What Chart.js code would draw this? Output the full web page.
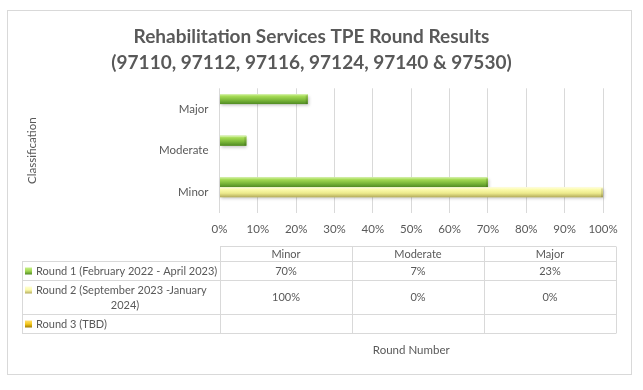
<!DOCTYPE html>
<html>
<head>
<meta charset="utf-8">
<script src="https://cdn.jsdelivr.net/npm/chart.js@4"></script>
<style>
html,body{margin:0;padding:0;background:#fff;}
#wrap{width:643px;height:390px;position:relative;}
</style>
</head>
<body>
<div id="wrap"><canvas id="c" width="643" height="390"></canvas></div>
<script>
// ---- data ----
const categories = ['Minor', 'Moderate', 'Major'];
const seriesNames = ['Round 1 (February 2022 - April 2023)', 'Round 2 (September 2023 -January 2024)', 'Round 3 (TBD)'];
const round1 = [70, 7, 23];
const round2 = [100, 0, 0];
const round3 = [null, null, null];
const xTicks = [0, 10, 20, 30, 40, 50, 60, 70, 80, 90, 100];
const titleLines = ['Rehabilitation Services TPE Round Results', '(97110, 97112, 97116, 97124, 97140 & 97530)'];
const yTitle = 'Classification';
const xTitle = 'Round Number';

// ---- styles ----
const FONT = 'Lato, "Open Sans", sans-serif';
const TXT = '#595959';
const GRID = '#d9d9d9';
const palettes = [
  {base: '#8cc63f', stops: ['#c8f08a', '#a2d852', '#7cb83a', '#4f8a23']},
  {base: '#f4f29a', stops: ['#ffffd4', '#fbfaaa', '#ecea8c', '#b4ac5c']},
  {base: '#f0c000', stops: ['#ffe070', '#f5c81a', '#e0b000', '#a07c00']}
];
const rowLabelLines = [
  ['Round 1 (February 2022 - April 2023)'],
  ['Round 2 (September 2023 -January', '2024)'],
  ['Round 3 (TBD)']
];
const seriesData = [round1, round2, round3];

const decorPlugin = {
  id: 'decor',
  beforeDraw(chart) {
    const ctx = chart.ctx;
    ctx.save();
    ctx.fillStyle = '#fff';
    ctx.fillRect(0, 0, chart.width, chart.height);
    ctx.strokeStyle = GRID;
    ctx.lineWidth = 1;
    ctx.strokeRect(7.5, 10.5, 624, 364);
    ctx.restore();
  },
  afterDatasetsDraw(chart) {
    const ctx = chart.ctx;
    chart.data.datasets.forEach((ds, di) => {
      const meta = chart.getDatasetMeta(di);
      const pal = palettes[di];
      meta.data.forEach((el, i) => {
        const v = ds.data[i];
        if (v === null || v === undefined || v === 0) return;
        const x0 = Math.min(el.base, el.x), x1 = Math.max(el.base, el.x);
        const top = el.y - el.height / 2, h = el.height;
        ctx.save();
        ctx.shadowColor = 'rgba(0,0,0,0.22)';
        ctx.shadowBlur = 3;
        ctx.shadowOffsetY = 2;
        ctx.shadowOffsetX = 1;
        const g = ctx.createLinearGradient(0, top, 0, top + h);
        g.addColorStop(0, pal.stops[0]);
        g.addColorStop(0.25, pal.stops[1]);
        g.addColorStop(0.6, pal.stops[2]);
        g.addColorStop(1, pal.stops[3]);
        ctx.fillStyle = g;
        ctx.fillRect(x0, top, x1 - x0, h);
        ctx.restore();
        ctx.save();
        ctx.fillStyle = 'rgba(0,0,0,0.12)';
        ctx.fillRect(x1 - 2, top + 1, 2, h - 1);
        ctx.fillStyle = 'rgba(255,255,255,0.35)';
        ctx.fillRect(x0, top, x1 - x0, 1);
        ctx.restore();
      });
    });
  },
  afterDraw(chart) {
    const ctx = chart.ctx;
    const area = chart.chartArea;
    const L = 22, C0 = Math.round(area.left), colW = 132, R = C0 + colW * 3;
    const rows = [246.5, 261.5, 280.5, 314.5, 333.5];
    ctx.save();
    ctx.strokeStyle = GRID;
    ctx.lineWidth = 1;
    ctx.beginPath();
    ctx.moveTo(C0, rows[0]); ctx.lineTo(R, rows[0]);
    for (let r = 1; r < rows.length; r++) { ctx.moveTo(L, rows[r]); ctx.lineTo(R, rows[r]); }
    ctx.moveTo(L + 0.5, rows[1]); ctx.lineTo(L + 0.5, rows[4]);
    for (let c = 0; c <= 3; c++) {
      const x = C0 + c * colW + 0.5;
      ctx.moveTo(x, rows[0]); ctx.lineTo(x, rows[4]);
    }
    ctx.stroke();

    ctx.fillStyle = TXT;
    ctx.font = '11px ' + FONT;
    ctx.textBaseline = 'middle';
    ctx.textAlign = 'center';
    categories.forEach((c, i) => {
      ctx.fillText(c, C0 + colW * i + colW / 2, (rows[0] + rows[1]) / 2);
    });
    seriesData.forEach((arr, si) => {
      const yc = (rows[si + 1] + rows[si + 2]) / 2;
      arr.forEach((v, ci) => {
        if (v === null || v === undefined) return;
        ctx.fillText(v + '%', C0 + colW * ci + colW / 2, yc);
      });
      const lines = rowLabelLines[si];
      const firstY = lines.length > 1 ? yc - 7.5 : yc;
      const pal = palettes[si];
      const ix = 25, iy = firstY - 3.5, is = 7;
      const g = ctx.createLinearGradient(0, iy, 0, iy + is);
      g.addColorStop(0, pal.stops[0]);
      g.addColorStop(0.5, pal.stops[1]);
      g.addColorStop(1, pal.stops[3]);
      ctx.fillStyle = g;
      ctx.fillRect(ix, iy, is, is);
      ctx.fillStyle = TXT;
      ctx.textAlign = 'left';
      ctx.fillText(lines[0], 36, firstY);
      if (lines.length > 1) {
        ctx.textAlign = 'center';
        ctx.fillText(lines[1], (L + C0) / 2 + 4, firstY + 15);
      }
      ctx.textAlign = 'center';
    });
    ctx.restore();
  }
};

new Chart(document.getElementById('c'), {
  type: 'bar',
  data: {
    labels: categories,
    datasets: [
      {label: seriesNames[0], data: round1, backgroundColor: palettes[0].base},
      {label: seriesNames[1], data: round2, backgroundColor: palettes[1].base},
      {label: seriesNames[2], data: round3, backgroundColor: palettes[2].base}
    ]
  },
  options: {
    indexAxis: 'y',
    responsive: false,
    animation: false,
    devicePixelRatio: 1,
    categoryPercentage: 0.72,
    barPercentage: 1.0,
    layout: {padding: {left: 20, right: 40, top: 10, bottom: 33}},
    plugins: {
      legend: {display: false},
      tooltip: {enabled: false},
      title: {
        display: true,
        text: titleLines,
        color: TXT,
        font: {family: FONT, size: 19, weight: 'bold', lineHeight: 1.35},
        padding: {top: 14, bottom: 13}
      }
    },
    scales: {
      x: {
        min: 0, max: 100,
        afterBuildTicks(scale) { scale.ticks = xTicks.map(v => ({value: v})); },
        afterFit(scale) { scale.height = 144; },
        ticks: {
          color: TXT, font: {family: FONT, size: 11.5}, padding: 9,
          callback: v => v + '%', maxRotation: 0
        },
        grid: {color: GRID, drawTicks: false},
        border: {display: false},
        title: {display: true, text: xTitle, color: TXT, font: {family: FONT, size: 11.5}, padding: 0}
      },
      y: {
        reverse: true,
        afterFit(scale) { scale.width = 199.5; },
        ticks: {color: TXT, font: {family: FONT, size: 11.5}, padding: 3},
        grid: {display: false},
        border: {display: false},
        title: {display: true, text: yTitle, color: TXT, font: {family: FONT, size: 11.5}, padding: {top: 5, bottom: 0}}
      }
    }
  },
  plugins: [decorPlugin]
});
</script>
</body>
</html>
